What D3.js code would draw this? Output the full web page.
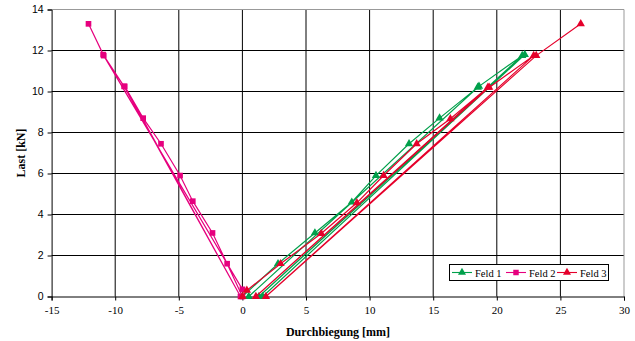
<!DOCTYPE html>
<html><head><meta charset="utf-8">
<script src="https://cdn.jsdelivr.net/npm/d3@7"></script>
<style>body{margin:0;background:#fff}svg{display:block}</style>
</head><body>
<script>
// ---- data ----
const seriesNames = ["Feld 1", "Feld 2", "Feld 3"];
const feld1X = [0, 2.8, 5.7, 8.6, 10.5, 13.1, 15.5, 18.5, 0.5, 18.6, 22.0, 1.3, 22.2, 1.6];
const feld1Y = [0, 1.6, 3.1, 4.6, 5.9, 7.45, 8.7, 10.2, 0, 10.25, 11.75, 0, 11.8, 0];
const feld2X = [0, -1.2, -2.35, -3.9, -4.9, -6.4, -7.8, -9.25, -0.15, -9.3, -10.95, 0, -10.9, -12.1];
const feld2Y = [0, 1.6, 3.1, 4.65, 5.9, 7.45, 8.7, 10.25, 0, 10.25, 11.8, 0.35, 11.75, 13.3];
const feld3X = [0, 0.35, 3.0, 6.2, 9.0, 11.1, 13.7, 16.35, 19.3, 1.06, 19.4, 22.9, 1.85, 23.1, 26.6];
const feld3Y = [0, 0.3, 1.6, 3.07, 4.57, 5.9, 7.45, 8.67, 10.2, 0, 10.2, 11.75, 0, 11.75, 13.3];
const xTicks = [-15, -10, -5, 0, 5, 10, 15, 20, 25, 30];
const yTicks = [0, 2, 4, 6, 8, 10, 12, 14];
const xTitle = "Durchbiegung [mm]";
const yTitle = "Last [kN]";

const colors = ["#00A04B", "#E6007E", "#E5002B"];
const markers = [d3.symbolTriangle, d3.symbolSquare, d3.symbolTriangle];
const series = [
  {name: seriesNames[0], pts: feld1X.map((x, i) => [x, feld1Y[i]])},
  {name: seriesNames[1], pts: feld2X.map((x, i) => [x, feld2Y[i]])},
  {name: seriesNames[2], pts: feld3X.map((x, i) => [x, feld3Y[i]])}
];

const W = 635, H = 341;
const svg = d3.select("body").append("svg").attr("width", W).attr("height", H);
const x = d3.scaleLinear().domain([-15, 30]).range([51.6, 624]);
const y = d3.scaleLinear().domain([0, 14]).range([296.5, 9.5]);

// grid
const g = svg.append("g");
g.selectAll(".hg").data(yTicks.filter(t => t > 0 && t < 14)).join("line")
  .attr("x1", x(-15)).attr("x2", x(30)).attr("y1", d => y(d)).attr("y2", d => y(d))
  .attr("stroke", "#000").attr("stroke-width", 1);
g.selectAll(".vg").data(xTicks.filter(t => t > -15 && t < 30)).join("line")
  .attr("y1", y(0)).attr("y2", y(14)).attr("x1", d => x(d)).attr("x2", d => x(d))
  .attr("stroke", "#000").attr("stroke-width", 1);
// top/right frame grey
svg.append("line").attr("x1", x(-15)).attr("x2", x(30)).attr("y1", y(14)).attr("y2", y(14)).attr("stroke", "#999");
svg.append("line").attr("x1", x(30)).attr("x2", x(30)).attr("y1", y(14)).attr("y2", y(0)).attr("stroke", "#999");

// axes
const fmt = d => String(d);
const xAxis = d3.axisBottom(x).tickValues(xTicks).tickSize(4).tickPadding(6).tickFormat(fmt);
const xMinor = d3.axisBottom(x).tickValues(d3.range(-15, 31, 1)).tickSize(3).tickFormat("");
const yAxis = d3.axisLeft(y).tickValues(yTicks).tickSize(4).tickPadding(4).tickFormat(fmt);
const yMinor = d3.axisLeft(y).tickValues(d3.range(0, 14.01, 0.4)).tickSize(3).tickFormat("");

const gx = svg.append("g").attr("transform", `translate(0,${y(0)})`);
gx.call(xMinor); gx.call(xAxis);
gx.selectAll("text").attr("font-family", "Liberation Serif").attr("font-size", "11px").attr("fill", "#000");
const gy = svg.append("g").attr("transform", `translate(${x(-15)},0)`);
gy.call(yMinor); gy.call(yAxis);
gy.selectAll("text").attr("font-family", "Liberation Sans").attr("font-size", "10.5px").attr("fill", "#000");
svg.selectAll(".domain").attr("stroke", "#000");
svg.selectAll(".tick line").attr("stroke", "#000");

// series
const line = d3.line().x(d => x(d[0])).y(d => y(d[1]));
series.forEach((s, i) => {
  const sg = svg.append("g");
  sg.append("path").datum(s.pts).attr("d", line).attr("fill", "none")
    .attr("stroke", colors[i]).attr("stroke-width", 1.2);
  sg.selectAll("path.m").data(s.pts).join("path").attr("class", "m")
    .attr("transform", d => `translate(${x(d[0])},${y(d[1])})`)
    .attr("d", d3.symbol().type(markers[i]).size(i === 1 ? 32 : 30))
    .attr("fill", colors[i]);
});

// titles
svg.append("text").attr("x", 338).attr("y", 336).attr("text-anchor", "middle")
  .attr("font-family", "Liberation Serif").attr("font-weight", "bold").attr("font-size", "12px").text(xTitle);
svg.append("text").attr("transform", "translate(25,153) rotate(-90)").attr("text-anchor", "middle")
  .attr("font-family", "Liberation Serif").attr("font-weight", "bold").attr("font-size", "12px").text(yTitle);

// legend
const lg = svg.append("g");
lg.append("rect").attr("x", 449.5).attr("y", 264.5).attr("width", 159).attr("height", 16)
  .attr("fill", "#fff").attr("stroke", "#000");
const lx = [452, 506, 557];
series.forEach((s, i) => {
  lg.append("line").attr("x1", lx[i]).attr("x2", lx[i] + 20).attr("y1", 272.5).attr("y2", 272.5)
    .attr("stroke", colors[i]).attr("stroke-width", 1.1);
  lg.append("path").attr("transform", `translate(${lx[i] + 10},272.5)`)
    .attr("d", d3.symbol().type(markers[i]).size(i === 1 ? 30 : 28)).attr("fill", colors[i]);
  lg.append("text").attr("x", lx[i] + 23).attr("y", 276.5)
    .attr("font-family", "Liberation Serif").attr("font-size", "10.5px").text(s.name);
});
</script>
</body></html>
